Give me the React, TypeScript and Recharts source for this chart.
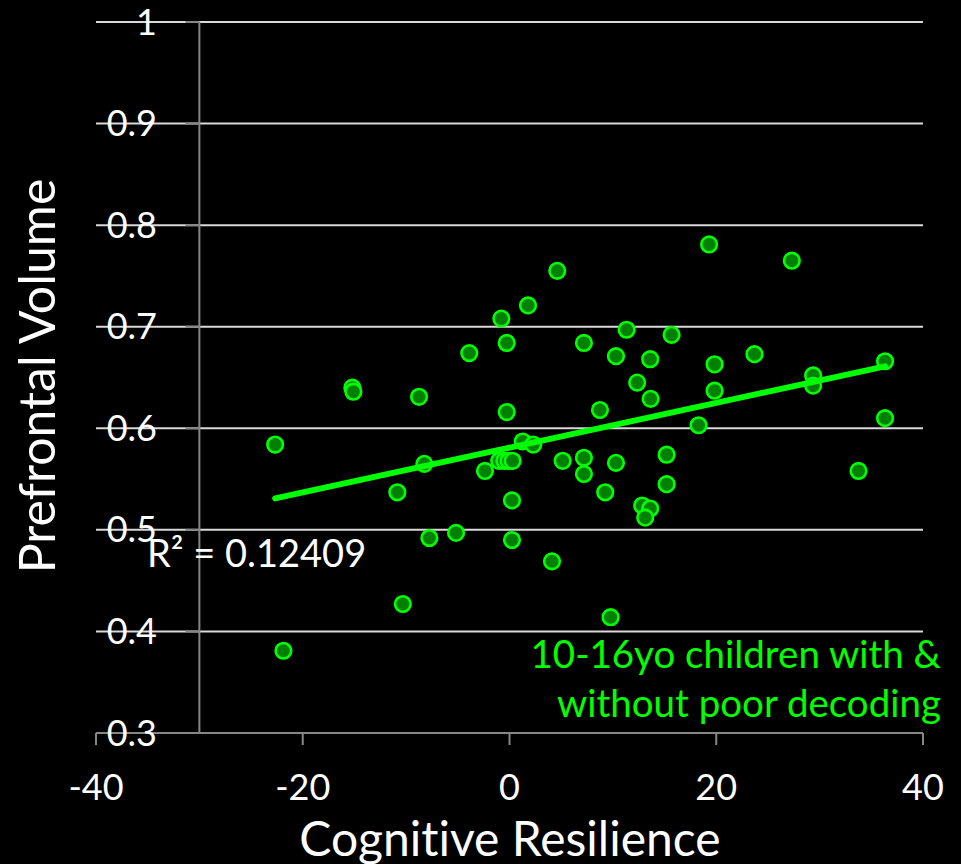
import React from "react";
import { ScatterChart, Scatter, XAxis, YAxis, CartesianGrid, ReferenceLine } from "recharts";

const cognitiveResilience = [
  -22.67, -21.87, -15.2, -15.1, -8.75, -3.89, -8.24, -10.85, -7.75, -5.17, -10.32, -2.37,
  4.62, 1.79, -0.79, -0.27, 7.2, 11.33, 15.68, 10.3, 13.61, 12.35, 13.65, -0.27, 8.75,
  1.28, 2.3, -1.0, -0.5, -0.1, 0.3, 0.24, 0.24, 4.11, 9.78, 5.14, 7.2, 7.2, 10.3, 9.26,
  15.2, 15.2, 12.84, 13.61, 13.13, 19.31, 27.31, 23.7, 19.84, 19.84, 29.37, 29.37, 36.33,
  36.33, 18.29, 33.76,
];
const prefrontalVolume = [
  0.584, 0.381, 0.64, 0.636, 0.631, 0.674, 0.565, 0.537, 0.492, 0.497, 0.427, 0.558,
  0.755, 0.721, 0.708, 0.684, 0.684, 0.697, 0.692, 0.671, 0.668, 0.645, 0.629, 0.616, 0.618,
  0.587, 0.584, 0.568, 0.568, 0.568, 0.568, 0.529, 0.49, 0.469, 0.414, 0.568, 0.571, 0.555,
  0.566, 0.537, 0.574, 0.545, 0.524, 0.521, 0.512, 0.781, 0.765, 0.673, 0.663, 0.637, 0.652,
  0.642, 0.666, 0.61, 0.603, 0.558,
];
const trendX = [-22.67, 36.33];
const trendY = [0.531, 0.661];
const xTicks = [-40, -20, 0, 20, 40];
const yTicks = [0.3, 0.4, 0.5, 0.6, 0.7, 0.8, 0.9, 1];
const yAxisAt = -30;
const yTickLen = 1.35;

const xTitle = "Cognitive Resilience";
const yTitle = "Prefrontal Volume";
const rSquared = "R² = 0.12409";
const noteLines = ["10-16yo children with &", "without poor decoding"];

const points = cognitiveResilience.map((x, i) => ({ x, y: prefrontalVolume[i] }));
const trend = trendX.map((x, i) => ({ x, y: trendY[i] }));

const FONT = "Lato, 'Open Sans', sans-serif";
const GREEN = "#00ff00";
const AXIS_GRAY = "#868686";

const Dot = (props: any) => (
  <circle cx={props.cx} cy={props.cy} r={7.8} fill="#008000" stroke={GREEN} strokeWidth={2.6} />
);
const NoShape = () => <g />;

const YTick = (props: any) => (
  <text x={157} y={props.y} dy="0.35em" textAnchor="end" fill="#ffffff" fontSize={36} fontFamily={FONT}>
    {String(props.payload.value)}
  </text>
);

export default function App() {
  return (
    <div
      style={{
        position: "absolute",
        left: 0,
        top: 0,
        width: 961,
        height: 864,
        background: "#000",
        overflow: "hidden",
        fontVariantLigatures: "none",
        fontFeatureSettings: '"liga" 0, "clig" 0',
      }}
    >
      <ScatterChart width={961} height={864} margin={{ top: 22, right: 38, bottom: 0, left: 0 }}>
        <CartesianGrid horizontal vertical={false} stroke="#d9d9d9" strokeWidth={2} />
        <XAxis
          type="number"
          dataKey="x"
          domain={[-40, 40]}
          ticks={xTicks}
          allowDataOverflow
          height={131}
          axisLine={{ stroke: AXIS_GRAY, strokeWidth: 2 }}
          tickLine={{ stroke: AXIS_GRAY, strokeWidth: 2 }}
          tickSize={12}
          tickMargin={29}
          tick={{ fill: "#ffffff", fontSize: 36, fontFamily: FONT }}
        />
        <YAxis
          type="number"
          dataKey="y"
          domain={[0.3, 1]}
          ticks={yTicks}
          allowDataOverflow
          width={96}
          axisLine={false}
          tickLine={false}
          tick={<YTick />}
        />
        <ReferenceLine x={yAxisAt} stroke={AXIS_GRAY} strokeWidth={2} />
        {yTicks.map((t) => (
          <ReferenceLine
            key={t}
            segment={[{ x: yAxisAt - yTickLen, y: t }, { x: yAxisAt, y: t }]}
            stroke={AXIS_GRAY}
            strokeWidth={2}
          />
        ))}
        <Scatter data={points} shape={<Dot />} isAnimationActive={false} />
        <Scatter
          data={trend}
          shape={<NoShape />}
          line={{ stroke: GREEN, strokeWidth: 6, strokeLinecap: "round" }}
          isAnimationActive={false}
        />
      </ScatterChart>
      <svg width={961} height={864} style={{ position: "absolute", left: 0, top: 0, pointerEvents: "none" }}>
        <text x={510} y={856} textAnchor="middle" fill="#ffffff" fontSize={48} fontFamily={FONT}>
          {xTitle}
        </text>
        <text transform="translate(55,376) rotate(-90)" textAnchor="middle" fill="#ffffff" fontSize={50} fontFamily={FONT}>
          {yTitle}
        </text>
        <text x={147} y={567} fill="#ffffff" fontSize={38} fontFamily={FONT}>
          {rSquared}
        </text>
        {noteLines.map((l, i) => (
          <text key={l} x={941} y={668 + i * 49} textAnchor="end" fill={GREEN} fontSize={38.5} fontFamily={FONT}>
            {l}
          </text>
        ))}
      </svg>
    </div>
  );
}
